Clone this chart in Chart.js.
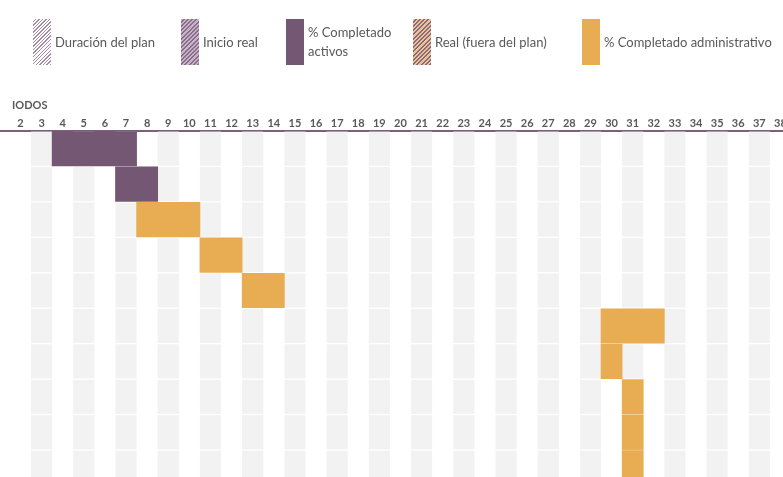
<!DOCTYPE html>
<html lang="es">
<head>
<meta charset="utf-8">
<title>Planificador de proyectos</title>
<script src="https://cdn.jsdelivr.net/npm/chart.js@4.4.1/dist/chart.umd.min.js"></script>
<style>
  html, body { margin: 0; padding: 0; background: #fff; overflow: hidden; }
  #wrap { position: relative; width: 783px; height: 477px; font-family: Lato, "Open Sans", sans-serif; color: #595959; }
  #grafico { position: absolute; left: 0; top: 0; width: 783px; height: 477px; }
  .sw { position: absolute; top: 19px; width: 18px; height: 46px; }
  .lbl { position: absolute; font-size: 13px; line-height: 19px; white-space: nowrap; }
  #titulo { position: absolute; left: 12px; top: 98px; font-size: 11px; font-weight: bold; color: #595959; }
</style>
</head>
<body>
<div id="wrap">
  <canvas id="grafico"></canvas>
  <div id="leyenda"></div>
  <div id="titulo">IODOS</div>
</div>
<script>
console.log("gantt cargado");

// periodos visibles en el encabezado
const periodos = [2, 3, 4, 5, 6, 7, 8, 9, 10, 11, 12, 13, 14, 15, 16, 17, 18, 19, 20,
  21, 22, 23, 24, 25, 26, 27, 28, 29, 30, 31, 32, 33, 34, 35, 36, 37, 38];
const etiquetasPeriodo = periodos.map(p => String(p));

// filas de actividades (una barra por fila)
const filas = [0, 1, 2, 3, 4, 5, 6, 7, 8, 9];
const inicioReal = [4, 7, 8, 11, 13, 30, 30, 31, 31, 31];
const duracionReal = [4, 2, 3, 2, 2, 3, 1, 1, 1, 1];
const categoria = ['activos', 'activos', 'administrativo', 'administrativo', 'administrativo',
  'administrativo', 'administrativo', 'administrativo', 'administrativo', 'administrativo'];

const colores = {
  activos: '#745773',
  administrativo: '#e8ac52',
  franja: '#f2f2f2',
  linea: '#7d5f7c',
  texto: '#595959'
};

// leyenda en html (hay una etiqueta en dos lineas)
const leyendaItems = [
  { x: 33, texto: ['Duración del plan'], fondo: 'repeating-linear-gradient(135deg, #fff 0 1.5px, #a58ba4 1.5px 2.5px)' },
  { x: 181, texto: ['Inicio real'], fondo: 'repeating-linear-gradient(135deg, #c7b3c6 0 1.5px, #8c6c8b 1.5px 3px)' },
  { x: 286, texto: ['% Completado', 'activos'], fondo: colores.activos },
  { x: 413, texto: ['Real (fuera del plan)'], fondo: 'repeating-linear-gradient(135deg, #ecc38f 0 1.5px, #8a6a82 1.5px 3px)' },
  { x: 582, texto: ['% Completado administrativo'], fondo: colores.administrativo }
];
const leyenda = document.getElementById('leyenda');
leyendaItems.forEach(it => {
  const sw = document.createElement('div');
  sw.className = 'sw';
  sw.style.left = it.x + 'px';
  sw.style.background = it.fondo;
  leyenda.appendChild(sw);
  const lb = document.createElement('div');
  lb.className = 'lbl';
  lb.style.left = (it.x + 22) + 'px';
  lb.style.top = (it.texto.length > 1 ? 23 : 33) + 'px';
  lb.innerHTML = it.texto.join('<br>');
  leyenda.appendChild(lb);
});

function serie(cat) {
  return filas
    .filter(i => categoria[i] === cat)
    .map(i => ({ x: [inicioReal[i] - 0.5, inicioReal[i] + duracionReal[i] - 0.5], y: i + 0.5 }));
}

// franjas grises en los periodos impares
const franjas = {
  id: 'franjas',
  beforeDatasetsDraw(chart) {
    const { ctx, scales: { x, y } } = chart;
    ctx.save();
    ctx.fillStyle = colores.franja;
    periodos.filter(p => p % 2 === 1).forEach(p => {
      const x0 = x.getPixelForValue(p - 0.5);
      const x1 = x.getPixelForValue(p + 0.5);
      filas.forEach(i => {
        const y0 = y.getPixelForValue(i);
        const y1 = y.getPixelForValue(i + 1);
        ctx.fillRect(x0, y0 + 0.6, x1 - x0, y1 - y0 - 1.3);
      });
    });
    ctx.restore();
  }
};

new Chart(document.getElementById('grafico'), {
  type: 'bar',
  data: {
    datasets: [
      {
        label: '% Completado activos',
        data: serie('activos'),
        backgroundColor: colores.activos,
        barThickness: 34.5,
        grouped: false
      },
      {
        label: '% Completado administrativo',
        data: serie('administrativo'),
        backgroundColor: colores.administrativo,
        barThickness: 34.5,
        grouped: false
      }
    ]
  },
  options: {
    indexAxis: 'y',
    responsive: true,
    maintainAspectRatio: false,
    animation: false,
    layout: { padding: { top: 115.8, left: 0, right: 0, bottom: 0 } },
    plugins: {
      legend: { display: false },
      tooltip: { enabled: false }
    },
    scales: {
      x: {
        type: 'linear',
        position: 'top',
        min: 1.03,
        max: 38.12,
        grid: { display: false, drawTicks: false },
        border: { display: true, color: colores.linea, width: 2 },
        afterBuildTicks: scale => {
          scale.ticks = periodos.map(p => ({ value: p }));
        },
        afterFit: scale => {
          scale.paddingLeft = 0;
          scale.paddingRight = 0;
        },
        ticks: {
          autoSkip: false,
          maxRotation: 0,
          padding: 1,
          color: colores.texto,
          font: { family: 'Lato', size: 11, weight: 'bold' },
          callback: (v) => etiquetasPeriodo[periodos.indexOf(v)]
        }
      },
      y: {
        type: 'linear',
        display: false,
        offset: false,
        reverse: true,
        min: 0,
        max: 9.76
      }
    }
  },
  plugins: [franjas]
});
</script>
</body>
</html>
